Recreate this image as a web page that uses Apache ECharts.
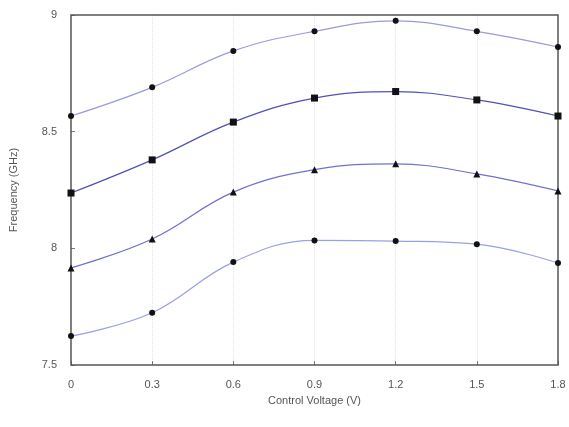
<!DOCTYPE html>
<html><head><meta charset="utf-8">
<script src="https://cdn.jsdelivr.net/npm/echarts@6/dist/echarts.min.js"></script>
<style>html,body{margin:0;padding:0;background:#fff}#c{width:569px;height:427px}</style>
</head><body><div id="c"></div>
<script>
const voltages = [0, 0.3, 0.6, 0.9, 1.2, 1.5, 1.8];
const series1 = [8.567, 8.69, 8.846, 8.93, 8.975, 8.93, 8.863];
const series2 = [8.237, 8.379, 8.541, 8.644, 8.672, 8.636, 8.567];
const series3 = [7.916, 8.04, 8.241, 8.337, 8.362, 8.319, 8.246];
const series4 = [7.624, 7.724, 7.941, 8.034, 8.031, 8.018, 7.937];
const xTicks = ['0','0.3','0.6','0.9','1.2','1.5','1.8'];
const yTicks = ['7.5','8','8.5','9'];

const chart = echarts.init(document.getElementById('c'));
function mk(vals, symbol, color, size){
  return {type:'line', smooth:0.4, data: voltages.map((v,i)=>[v, vals[i]]),
    symbol:symbol, symbolSize:size, showSymbol:true, z:5,
    lineStyle:{color:color, width:1.2}, itemStyle:{color:'#111', borderWidth:0}};
}
chart.setOption({
  animation:false,
  grid:{left:70, right:11, top:15, bottom:62, show:true, borderColor:'#555', borderWidth:1.5, z:3},
  xAxis:{type:'value', min:0, max:1.8, interval:0.3,
    name:'Control Voltage (V)', nameLocation:'middle', nameGap:30,
    nameTextStyle:{color:'#555', fontSize:11, fontFamily:'Liberation Sans'},
    axisLine:{show:false}, axisTick:{inside:true, length:4, lineStyle:{color:'#777'}},
    axisLabel:{color:'#555', fontSize:11, margin:14, fontFamily:'Liberation Sans',
      formatter:(v)=>xTicks[Math.round(v/0.3)]},
    splitLine:{show:true, showMinLine:false, showMaxLine:false, lineStyle:{color:'#e4e4e4', type:'dotted', width:1}}},
  yAxis:{type:'value', min:7.5, max:9, interval:0.5,
    name:'Frequency (GHz)', nameLocation:'middle', nameGap:52,
    nameTextStyle:{color:'#555', fontSize:11, fontFamily:'Liberation Sans'},
    axisLine:{show:false}, axisTick:{inside:true, length:4, lineStyle:{color:'#777'}},
    axisLabel:{color:'#555', fontSize:11, margin:14, fontFamily:'Liberation Sans',
      formatter:(v)=>yTicks[Math.round((v-7.5)/0.5)]},
    splitLine:{show:false}},
  series:[
    mk(series1,'circle','#9a9ae0',6),
    mk(series2,'rect','#5050b8',7),
    mk(series3,'triangle','#7070d0',7),
    mk(series4,'circle','#9aa0e8',6)
  ]
});
</script></body></html>
